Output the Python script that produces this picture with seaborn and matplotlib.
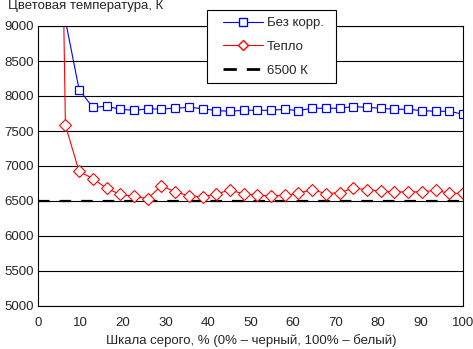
import numpy as np
import pandas as pd
import matplotlib
matplotlib.use("Agg")
import matplotlib.pyplot as plt
import seaborn as sns
from matplotlib.lines import Line2D
from matplotlib.patches import Rectangle

# ---- data ----
gray_pct = [i * 100 / 31 for i in range(32)]
no_corr = [np.nan, np.nan, 9080, 8090, 7838, 7853, 7810, 7796, 7815, 7815, 7825, 7838,
           7820, 7791, 7782, 7796, 7796, 7796, 7810, 7791, 7825, 7825, 7825, 7848,
           7838, 7825, 7810, 7810, 7791, 7782, 7782, 7739]
warm = [np.nan, 20000, 7582, 6922, 6821, 6681, 6595, 6566, 6533, 6720, 6630, 6576,
        6557, 6605, 6653, 6605, 6581, 6572, 6581, 6610, 6663, 6605, 6620, 6681,
        6663, 6639, 6630, 6630, 6630, 6653, 6610, 6610]
ref_6500 = [6500] * 32
series_names = ["Без корр.", "Тепло", "6500 К"]
x_ticks = list(range(0, 101, 10))
y_ticks = list(range(5000, 9001, 500))
title = "Цветовая температура, К"
xlabel = "Шкала серого, % (0% – черный, 100% – белый)"

df = pd.DataFrame({"x": gray_pct, "nc": no_corr, "warm": warm, "ref": ref_6500})

sns.set_style("white")
plt.rcParams["font.family"] = ["Liberation Sans", "DejaVu Sans"]
plt.rcParams["font.size"] = 9.5

W, H = 473, 349
fig = plt.figure(figsize=(W / 100, H / 100), dpi=100)
ax = fig.add_axes([38 / W, 1 - 306 / H, (463 - 38) / W, (306 - 26) / H])

lw = 0.8
sns.lineplot(data=df, x="x", y="ref", ax=ax, color="black", linewidth=1.6,
             dashes=False, legend=False)
ax.lines[-1].set_dashes([5.2, 4.5])
sns.lineplot(data=df, x="x", y="warm", ax=ax, color="red", linewidth=lw,
             marker="D", markersize=6.5, markerfacecolor="white",
             markeredgecolor="red", markeredgewidth=0.8, legend=False)
sns.lineplot(data=df, x="x", y="nc", ax=ax, color="blue", linewidth=lw,
             marker="s", markersize=5.2, markerfacecolor="white",
             markeredgecolor="blue", markeredgewidth=0.9, legend=False)

ax.set_xlim(0, 100)
ax.set_ylim(5000, 9000)
ax.set_xticks(x_ticks)
ax.set_yticks(y_ticks)
ax.set_xlabel("")
ax.set_ylabel("")
ax.grid(axis="y", color="black", linewidth=0.8)
ax.set_axisbelow(True)
for s in ax.spines.values():
    s.set_color("black")
    s.set_linewidth(0.8)
ax.tick_params(axis="x", length=4, width=0.8, color="black", pad=4, labelsize=9.5)
ax.tick_params(axis="y", length=0, pad=3, labelsize=9.5)

fig.text(8 / W, 1 - 0 / H, title, ha="left", va="top", fontsize=9.5)
fig.text(251 / W, 1 - 341 / H, xlabel, ha="center", va="center", fontsize=9.5)

# legend frame
fig.patches.append(Rectangle((207 / W, 1 - 83 / H), (336 - 207) / W, (83 - 10) / H,
                             transform=fig.transFigure, facecolor="white",
                             edgecolor="black", linewidth=0.8, zorder=5))
handles = [
    Line2D([], [], color="blue", lw=lw, marker="s", markersize=5.2,
           markerfacecolor="white", markeredgecolor="blue"),
    Line2D([], [], color="red", lw=lw, marker="D", markersize=5,
           markerfacecolor="white", markeredgecolor="red"),
    Line2D([], [], color="black", lw=2.0, dashes=[4.8, 3.6]),
]
leg = fig.legend(handles, series_names, loc="upper left",
                 bbox_to_anchor=(223 / W, 1 - 17 / H), frameon=False,
                 fontsize=9.5, handlelength=3.05, handletextpad=0.3,
                 labelspacing=0.88, borderpad=0, borderaxespad=0)
leg.set_zorder(6)

fig.savefig("out.png", dpi=100)
